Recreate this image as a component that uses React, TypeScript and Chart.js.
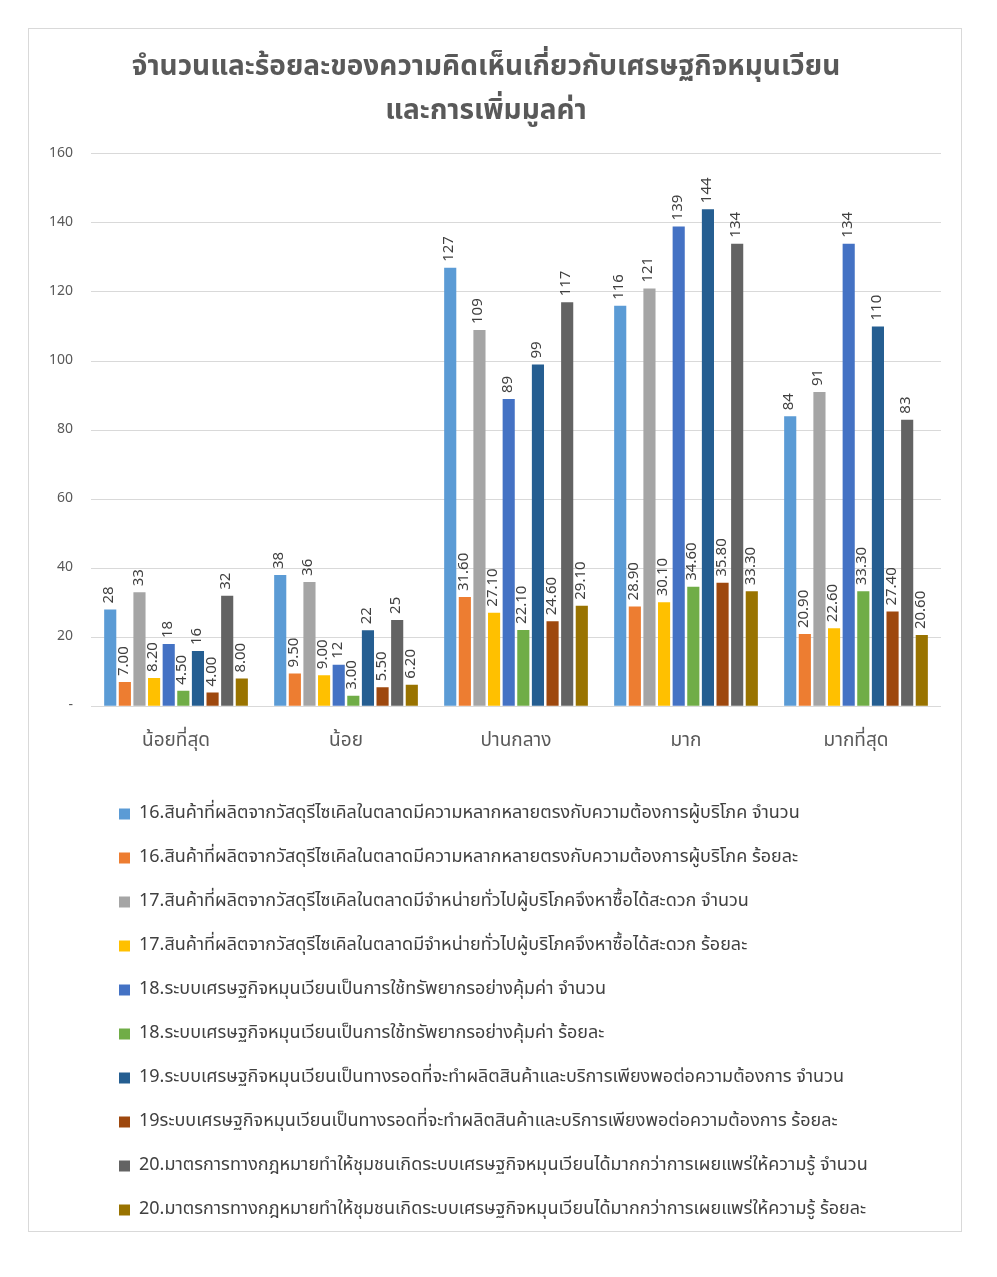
import React, { useEffect, useRef } from "react";
import { Chart, registerables } from "chart.js";

Chart.register(...registerables);

const categories = ["น้อยที่สุด", "น้อย", "ปานกลาง", "มาก", "มากที่สุด"];

const seriesNames = [
  "16.สินค้าที่ผลิตจากวัสดุรีไซเคิลในตลาดมีความหลากหลายตรงกับความต้องการผู้บริโภค จำนวน",
  "16.สินค้าที่ผลิตจากวัสดุรีไซเคิลในตลาดมีความหลากหลายตรงกับความต้องการผู้บริโภค ร้อยละ",
  "17.สินค้าที่ผลิตจากวัสดุรีไซเคิลในตลาดมีจำหน่ายทั่วไปผู้บริโภคจึงหาซื้อได้สะดวก จำนวน",
  "17.สินค้าที่ผลิตจากวัสดุรีไซเคิลในตลาดมีจำหน่ายทั่วไปผู้บริโภคจึงหาซื้อได้สะดวก ร้อยละ",
  "18.ระบบเศรษฐกิจหมุนเวียนเป็นการใช้ทรัพยากรอย่างคุ้มค่า จำนวน",
  "18.ระบบเศรษฐกิจหมุนเวียนเป็นการใช้ทรัพยากรอย่างคุ้มค่า ร้อยละ",
  "19.ระบบเศรษฐกิจหมุนเวียนเป็นทางรอดที่จะทำผลิตสินค้าและบริการเพียงพอต่อความต้องการ จำนวน",
  "19ระบบเศรษฐกิจหมุนเวียนเป็นทางรอดที่จะทำผลิตสินค้าและบริการเพียงพอต่อความต้องการ ร้อยละ",
  "20.มาตรการทางกฎหมายทำให้ชุมชนเกิดระบบเศรษฐกิจหมุนเวียนได้มากกว่าการเผยแพร่ให้ความรู้ จำนวน",
  "20.มาตรการทางกฎหมายทำให้ชุมชนเกิดระบบเศรษฐกิจหมุนเวียนได้มากกว่าการเผยแพร่ให้ความรู้ ร้อยละ",
];

const q16Count = [28, 38, 127, 116, 84];
const q16Pct = [7.0, 9.5, 31.6, 28.9, 20.9];
const q17Count = [33, 36, 109, 121, 91];
const q17Pct = [8.2, 9.0, 27.1, 30.1, 22.6];
const q18Count = [18, 12, 89, 139, 134];
const q18Pct = [4.5, 3.0, 22.1, 34.6, 33.3];
const q19Count = [16, 22, 99, 144, 110];
const q19Pct = [4.0, 5.5, 24.6, 35.8, 27.4];
const q20Count = [32, 25, 117, 134, 83];
const q20Pct = [8.0, 6.2, 29.1, 33.3, 20.6];

const seriesValues = [q16Count, q16Pct, q17Count, q17Pct, q18Count, q18Pct, q19Count, q19Pct, q20Count, q20Pct];
const seriesIsPct = [false, true, false, true, false, true, false, true, false, true];

const colors = ["#5B9BD5", "#ED7D31", "#A5A5A5", "#FFC000", "#4472C4", "#70AD47", "#255E91", "#9E480E", "#636363", "#997300"];

const titleLines = ["จำนวนและร้อยละของความคิดเห็นเกี่ยวกับเศรษฐกิจหมุนเวียน", "และการเพิ่มมูลค่า"];

const yTicks = [0, 20, 40, 60, 80, 100, 120, 140, 160];

const FONT = "Tahoma, 'Noto Sans Thai', 'Noto Sans', 'DejaVu Sans', sans-serif";

const labelPlugin = {
  id: "barLabels",
  afterDatasetsDraw(chart: any) {
    const ctx = chart.ctx;
    ctx.save();
    ctx.fillStyle = "#404040";
    ctx.font = `15px ${FONT}`;
    ctx.textAlign = "left";
    ctx.textBaseline = "middle";
    chart.data.datasets.forEach((ds: any, di: number) => {
      const meta = chart.getDatasetMeta(di);
      meta.data.forEach((bar: any, i: number) => {
        const v = ds.data[i];
        const txt = seriesIsPct[di] ? v.toFixed(2) : String(v);
        ctx.save();
        ctx.translate(bar.x, bar.y - 6);
        ctx.rotate(-Math.PI / 2);
        ctx.fillText(txt, 0, 0);
        ctx.restore();
      });
    });
    ctx.restore();
  },
};

const legendShift = {
  id: "legendShift",
  afterLayout(chart: any) {
    if (chart.legend) {
      chart.legend.left += 62;
      chart.legend.right += 62;
    }
  },
};

export default function App() {
  const ref = useRef<HTMLCanvasElement>(null);
  useEffect(() => {
    if (!ref.current) return;
    const chart = new Chart(ref.current, {
      type: "bar",
      data: {
        labels: categories,
        datasets: seriesNames.map((name, i) => ({
          label: name,
          data: seriesValues[i],
          backgroundColor: colors[i],
          borderWidth: 0,
          categoryPercentage: 0.86,
          barPercentage: 0.83,
        })),
      },
      options: {
        animation: false,
        responsive: true,
        maintainAspectRatio: false,
        layout: { padding: { left: 2, right: 20, top: 18, bottom: 2 } },
        plugins: {
          title: {
            display: true,
            text: titleLines,
            color: "#595959",
            font: { family: FONT, size: 28, weight: "bold", lineHeight: 1.57 },
            padding: { top: 0, bottom: 19 },
          },
          legend: {
            position: "bottom",
            align: "start",
            labels: {
              boxWidth: 11,
              boxHeight: 11,
              padding: 26,
              color: "#404040",
              font: { family: FONT, size: 18 },
            },
          },
          tooltip: { enabled: false },
        },
        scales: {
          x: {
            grid: { display: false },
            border: { display: false },
            ticks: { color: "#595959", font: { family: FONT, size: 19 }, padding: 17 },
            afterFit: (scale: any) => {
              scale.height += 8;
            },
          },
          y: {
            min: 0,
            max: 160,
            afterBuildTicks: (axis: any) => {
              axis.ticks = yTicks.map((v) => ({ value: v }));
            },
            grid: { color: "#D9D9D9", lineWidth: 1, drawTicks: false },
            border: { display: false },
            ticks: {
              color: "#595959",
              font: { family: FONT, size: 14 },
              padding: 18,
              callback: (v: any) => (v === 0 ? "-" : String(v)),
            },
          },
        },
      },
      plugins: [labelPlugin, legendShift],
    });
    return () => chart.destroy();
  }, []);

  return (
    <div
      style={{
        marginLeft: 20,
        marginTop: 20,
        width: 934,
        height: 1204,
        border: "1px solid #D9D9D9",
        boxSizing: "border-box",
        position: "relative",
        background: "#fff",
      }}
    >
      <canvas ref={ref} />
    </div>
  );
}
